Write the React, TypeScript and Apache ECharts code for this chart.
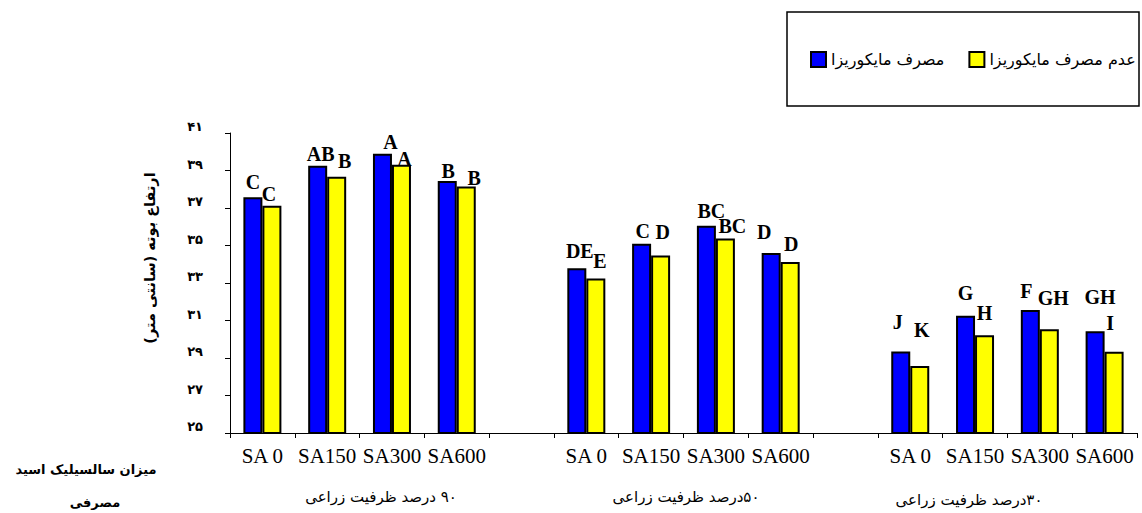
import React, { useEffect, useRef } from "react";
import * as echarts from "echarts";

const categories = ["SA 0", "SA150", "SA300", "SA600", "", "SA 0", "SA150", "SA300", "SA600", "", "SA 0", "SA150", "SA300", "SA600"];
const blueValues = [37.57, 39.26, 39.9, 38.44, null, 33.79, 35.1, 36.05, 34.6, null, 29.35, 31.26, 31.56, 30.43];
const yellowValues = [37.12, 38.67, 39.31, 38.15, null, 33.24, 34.47, 35.37, 34.12, null, 28.58, 30.22, 30.54, 29.33];
const blueLetters = ["C", "AB", "A", "B", "", "DE", "C", "BC", "D", "", "J", "G", "F", "GH"];
const yellowLetters = ["C", "B", "A", "B", "", "E", "D", "BC", "D", "", "K", "H", "GH", "I"];
const blueLabelNudge = [[0, -4], [3, -1], [8, -1], [1, 1], [0, 0], [3, -6], [1, -2], [5, -4], [-7, -10], [0, 0], [-3, -18], [0, -12], [-4, -8], [5, -23]];
const yellowLabelNudge = [[-3, -1], [8, -5], [3, 5], [8, 3], [0, 0], [4, -7], [2, -12], [7, -2], [1, -7], [0, 0], [2, -25], [0, -11], [4, -20], [-4, -18]];
const seriesNames = ["مصرف مایکوریزا", "عدم مصرف مایکوریزا"];
const groupNames = ["۹۰ درصد ظرفیت زراعی", "۵۰درصد ظرفیت زراعی", "۳۰درصد ظرفیت زراعی"];
const yAxisTitle = "ارتفاع بوته (سانتی متر)";
const cornerTitle = ["میزان سالسیلیک اسید", "مصرفی"];

const RLM = "\u200F";
const rtl = (s: string) => RLM + s + RLM;
const toPersian = (n: number | string) =>
  String(n).replace(/[0-9]/g, (d) => "۰۱۲۳۴۵۶۷۸۹"[Number(d)]);

const SERIF = "'Liberation Serif', 'Times New Roman', serif";
const ARABIC = "'DejaVu Sans', sans-serif";

function buildData(values: (number | null)[], letters: string[], nudges: number[][]) {
  return values.map((v, i) =>
    v == null
      ? null
      : {
          value: v,
          label: { formatter: letters[i], offset: nudges[i] },
        }
  );
}

export default function App() {
  const ref = useRef<HTMLDivElement>(null);
  useEffect(() => {
    if (!ref.current) return;
    const chart = echarts.init(ref.current, undefined, { renderer: "svg" });
    const barCommon = {
      type: "bar" as const,
      barWidth: 19,
      barGap: "0%",
      itemStyle: { borderColor: "#000", borderWidth: 2 },
      label: {
        show: true,
        position: "top" as const,
        distance: 1,
        fontFamily: SERIF,
        fontWeight: "bold" as const,
        fontSize: 20,
        color: "#000",
      },
    };
    chart.setOption({
      animation: false,
      backgroundColor: "#fff",
      grid: { left: 230, right: 5, top: 133, bottom: 80, containLabel: false },
      legend: {
        left: 805,
        top: 46,
        itemWidth: 15,
        itemHeight: 15,
        itemGap: 24,
        icon: "rect",
        formatter: (name: string) => rtl(name),
        textStyle: { fontFamily: ARABIC, fontSize: 16, color: "#000" },
        data: seriesNames,
      },
      xAxis: {
        type: "category",
        data: categories,
        axisLine: { lineStyle: { color: "#000", width: 1 } },
        axisTick: { show: true, alignWithLabel: false, interval: 0, length: 5, lineStyle: { color: "#000" } },
        axisLabel: {
          interval: 0,
          fontFamily: SERIF,
          fontSize: 21,
          color: "#000",
          margin: 12,
        },
        splitLine: { show: false },
      },
      yAxis: {
        type: "value",
        min: 25,
        max: 41,
        interval: 2,
        axisLine: { show: true, lineStyle: { color: "#000", width: 1 } },
        axisTick: { show: true, length: 5, lineStyle: { color: "#000" } },
        axisLabel: {
          formatter: (v: number) => toPersian(v),
          fontFamily: ARABIC,
          fontWeight: "bold",
          fontSize: 13,
          color: "#000",
          margin: 27,
          verticalAlign: "bottom",
        },
        splitLine: { show: false },
      },
      graphic: [
        {
          type: "rect",
          shape: { x: 787, y: 12, width: 352, height: 94 },
          style: { fill: "none", stroke: "#000", lineWidth: 1.5 },
          z: 0,
        },
        {
          type: "text",
          x: 150,
          y: 258,
          rotation: Math.PI / 2,
          style: {
            text: rtl(yAxisTitle),
            fontFamily: ARABIC,
            fontWeight: "bold",
            fontSize: 14.5,
            fill: "#000",
            align: "center",
            verticalAlign: "middle",
          },
        },
        ...groupNames.map((t, i) => ({
          type: "text",
          x: [381, 686, 969][i],
          y: [497, 497, 500][i],
          style: {
            text: rtl(t),
            fontFamily: ARABIC,
            fontSize: 15,
            fill: "#000",
            align: "center",
            verticalAlign: "middle",
          },
        })),
        ...cornerTitle.map((t, i) => ({
          type: "text",
          x: [86, 95][i],
          y: [469, 502][i],
          style: {
            text: rtl(t),
            fontFamily: ARABIC,
            fontWeight: "bold",
            fontSize: 13,
            fill: "#000",
            align: "center",
            verticalAlign: "middle",
          },
        })),
      ],
      series: [
        {
          ...barCommon,
          name: seriesNames[0],
          itemStyle: { ...barCommon.itemStyle, color: "#0000FF" },
          data: buildData(blueValues, blueLetters, blueLabelNudge),
        },
        {
          ...barCommon,
          name: seriesNames[1],
          itemStyle: { ...barCommon.itemStyle, color: "#FFFF00" },
          data: buildData(yellowValues, yellowLetters, yellowLabelNudge),
        },
      ],
    });
    return () => chart.dispose();
  }, []);
  return (
    <div
      ref={ref}
      style={{ position: "absolute", left: 0, top: 0, width: 1142, height: 513 }}
    />
  );
}
